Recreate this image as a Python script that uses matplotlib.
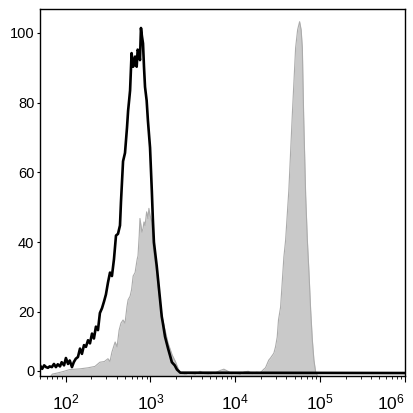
import numpy as np
import matplotlib
matplotlib.use("Agg")
import matplotlib.pyplot as plt
from matplotlib.ticker import FixedLocator, LogLocator, NullFormatter

plt.rcParams['font.family'] = ['Liberation Sans', 'DejaVu Sans']
plt.rcParams['mathtext.fontset'] = 'custom'
plt.rcParams['mathtext.rm'] = 'Liberation Sans'
plt.rcParams['mathtext.it'] = 'Liberation Sans'

# Control (black outline) histogram: intensity, % of max
ctrl_x = [50, 53, 56, 59, 62, 65, 69, 73, 77, 81, 86, 90, 96, 101, 107, 112, 119, 125,
          132, 140, 148, 156, 165, 174, 184, 194, 205, 216, 228, 241, 254, 269, 284, 299,
          316, 334, 352, 372, 393, 415, 438, 450, 476, 502, 530, 546, 561, 576, 600, 626,
          642, 660, 689, 708, 738, 753, 774, 795, 818, 840, 864, 903, 935, 990, 1040, 1068,
          1100, 1187, 1265, 1360, 1405, 1488, 1616, 1700, 1790, 1935, 2055, 2250, 1e6]
ctrl_y = [4.7, 3.7, 4.7, 4.2, 4.0, 4.4, 4.2, 5.1, 4.2, 5.0, 4.4, 5.6, 4.7, 6.8, 5.1, 6.1, 4.2, 5.6,
          6.6, 7.1, 9.5, 8.0, 10.5, 10.0, 11.9, 11.0, 13.8, 12.4, 15.8, 14.8, 19.7, 21.1, 23.0, 25.0,
          28.4, 31.3, 30.3, 35.1, 41.9, 42.4, 44.8, 51.6, 63.2, 65.6, 72.9, 77.7, 80.6, 83.5, 94.2, 90.3,
          91.3, 93.2, 90.3, 95.2, 94.2, 92.2, 101.4, 99.0, 97.0, 90.3, 84.5, 80.6, 74.8, 67.1, 54.5, 46.8,
          40.0, 33.2, 26.4, 18.7, 16.7, 12.9, 9.5, 7.6, 5.6, 4.7, 3.5, 2.6, 2.5]

# Stained sample (grey filled) histogram
stain_x = [60, 70, 80, 96, 112, 148, 184, 222, 254, 287, 316, 334, 352, 384, 405, 428, 450, 476,
           502, 530, 546, 576, 600, 626, 660, 698, 714, 738, 753, 774, 795, 818, 840, 864, 903,
           935, 960, 990, 1038, 1075, 1125, 1187, 1225, 1290, 1370, 1488, 1616, 1700, 1810, 1970,
           2130, 2250, 2590, 2950, 3370, 3850, 4400, 5030, 5760, 6580, 7340, 8200, 9150, 10200,
           11400, 12700, 14200, 15900, 17800, 19800, 21500, 22700, 24800, 26000, 28500, 29800,
           31200, 32300, 34200, 37400, 39200, 42800, 47000, 51400, 54300, 57300, 59700, 61700,
           63900, 67500, 70700, 73900, 77300, 80900, 84500, 88500, 93500, 1e6]
stain_y = [0.0, 2.2, 2.5, 3.0, 3.5, 3.7, 4.0, 4.4, 5.6, 5.8, 6.6, 5.8, 8.5, 11.4, 10.0, 14.8, 16.8, 17.7,
           16.8, 21.6, 23.5, 24.5, 26.4, 30.3, 31.3, 35.1, 36.1, 41.9, 46.8, 44.8, 42.9, 43.9, 45.8, 44.8, 48.7,
           46.8, 49.7, 47.7, 45.8, 39.0, 35.1, 31.3, 27.4, 23.5, 18.7, 14.8, 11.0, 9.5, 7.6, 5.8,
           3.7, 2.5, 2.0, 2.6, 2.0, 3.0, 2.2, 2.0, 2.5, 3.2, 3.6, 3.0, 2.2, 2.5,
           2.0, 2.8, 3.0, 2.3, 2.7, 2.6, 3.5, 4.0, 6.2, 6.8, 8.2, 10.0,
           12.8, 17.7, 21.4, 35.8, 40.6, 55.0, 76.5, 95.7, 100.9, 103.2, 100.9, 95.7,
           76.5, 53.5, 40.6, 31.2, 20.6, 12.0, 6.2, 2.8, 1.6, 0.0]

ytick_vals = [3.2, 20, 40, 60, 80, 100]
ytick_labels = ['0', '20', '40', '60', '80', '100']
xtick_vals = [1e2, 1e3, 1e4, 1e5, 1e6]
xtick_labels = [r'$10^{2}$', r'$10^{3}$', r'$10^{4}$', r'$10^{5}$', r'$10^{6}$']

fig = plt.figure(figsize=(4.13, 4.13), dpi=100)
ax = fig.add_axes([40 / 413, 1 - 376 / 413, 365 / 413, 366.5 / 413])

ax.fill_between(stain_x, stain_y, -5, color='#c9c9c9', linewidth=0, zorder=1)
ax.plot(stain_x, stain_y, color='#ababab', linewidth=0.8, zorder=2)
ax.plot(ctrl_x, ctrl_y, color='black', linewidth=1.9, zorder=3)

ax.set_xscale('log')
ax.set_xlim(50, 1e6)
ax.set_ylim(1.65, 106.7)

ax.xaxis.set_major_locator(FixedLocator(xtick_vals))
ax.set_xticklabels(xtick_labels, fontsize=12.5)
ax.get_xticklabels()[-1].set_horizontalalignment('right')
ax.get_xticklabels()[-1].set_x(1e6)
ax.xaxis.set_minor_locator(LogLocator(base=10, subs=np.arange(2, 10)))
ax.xaxis.set_minor_formatter(NullFormatter())
ax.tick_params(axis='x', which='major', direction='out', length=4, width=0.8, pad=8)
ax.tick_params(axis='x', which='minor', direction='out', length=2, width=0.6)

ax.yaxis.set_major_locator(FixedLocator(ytick_vals))
ax.set_yticklabels(ytick_labels, fontsize=10.5)
ax.tick_params(axis='y', which='major', direction='out', length=2, width=0.8, pad=2)

for s in ax.spines.values():
    s.set_linewidth(1.0)
    s.set_color('black')

fig.savefig('out.png', dpi=100)
